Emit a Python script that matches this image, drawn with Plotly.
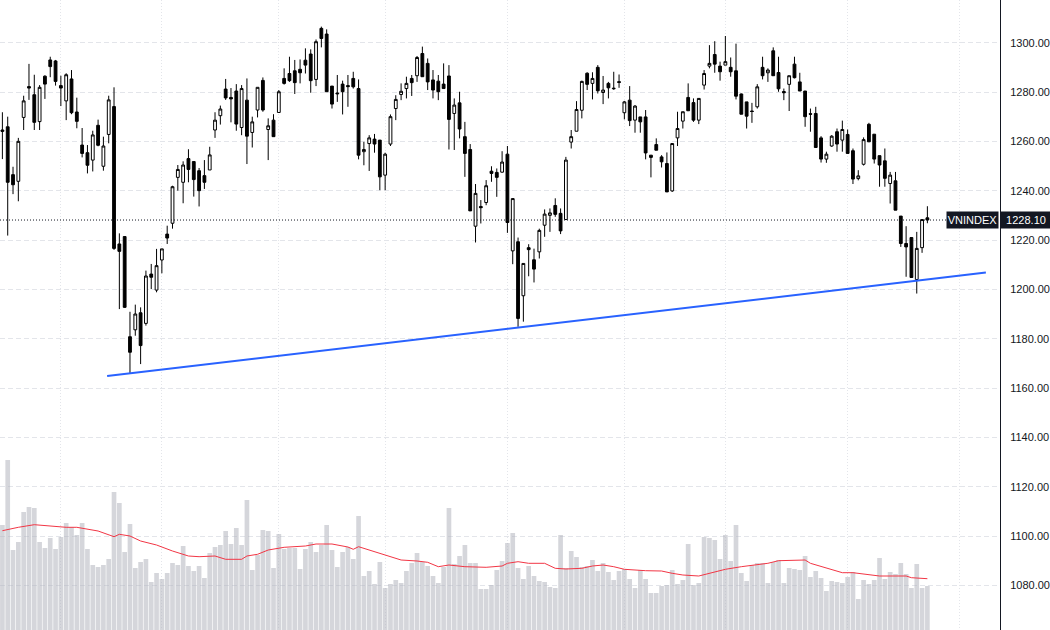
import plotly.graph_objects as go

# ---------------- data ----------------
opens = [1264.0,1265.9,1246.5,1243.8,1269.7,1282.2,1278.9,1268.0,1286.4,1293.0,
         1292.6,1282.6,1276.4,1285.3,1271.9,1258.5,1255.4,1252.4,1266.5,1249.9,
         1262.8,1274.1,1218.4,1221.4,1180.8,1183.6,1190.5,1186.2,1206.2,1199.7,
         1211.9,1222.4,1226.8,1245.4,1243.4,1253.0,1251.8,1248.1,1246.1,1248.4,
         1264.6,1270.4,1281.2,1277.8,1280.4,1265.6,1276.7,1263.6,1272.7,1284.7,
         1264.8,1268.6,1271.7,1285.5,1287.5,1288.6,1289.2,1292.9,1295.4,1285.1,
         1305.8,1303.5,1282.4,1279.6,1283.2,1282.6,1285.5,1281.4,1255.8,1259.1,
         1260.9,1260.5,1246.3,1258.9,1273.3,1279.0,1281.4,1285.5,1286.6,1295.6,
         1291.6,1284.9,1284.4,1283.2,1286.5,1271.3,1275.6,1261.9,1256.7,1225.6,
         1233.6,1235.2,1247.9,1247.4,1247.5,1254.8,1215.6,1219.3,1197.4,1216.9,
         1212.0,1215.2,1226.0,1230.0,1234.0,1230.8,1228.3,1259.7,1264.1,1272.6,
         1287.6,1283.5,1290.0,1279.8,1283.5,1281.3,1284.2,1271.6,1276.7,1268.6,
         1269.9,1269.9,1254.4,1258.7,1253.7,1251.0,1239.9,1261.4,1268.2,1277.8,
         1275.7,1268.6,1282.8,1290.5,1295.2,1290.5,1290.9,1290.0,1288.6,1279.2,
         1276.0,1272.3,1274.0,1290.0,1287.8,1296.7,1287.9,1280.2,1283.1,1291.3,
         1284.1,1280.4,1271.2,1271.3,1261.4,1252.8,1258.1,1263.9,1260.5,1262.8,
         1256.2,1244.9,1250.7,1266.9,1262.9,1254.2,1252.1,1242.9,1244.0,1229.7,
         1218.6,1221.0,1204.0,1216.9,1229.0]
highs = [1271.8,1270.0,1249.7,1261.4,1278.5,1291.4,1287.0,1282.8,1286.8,1294.3,
         1293.0,1286.6,1287.6,1288.9,1277.7,1265.4,1258.5,1264.3,1268.8,1261.9,
         1278.5,1281.9,1222.7,1221.4,1190.9,1193.8,1192.7,1207.6,1210.3,1216.4,
         1216.4,1225.8,1242.0,1250.4,1251.9,1256.8,1251.8,1249.2,1252.4,1257.8,
         1271.8,1274.5,1285.3,1281.6,1283.2,1282.8,1285.5,1270.0,1281.9,1285.9,
         1269.3,1271.0,1280.8,1289.6,1294.3,1293.0,1293.2,1297.7,1297.3,1301.3,
         1306.5,1305.4,1282.4,1286.9,1284.6,1286.9,1288.2,1285.1,1259.8,1262.5,
         1263.0,1260.5,1255.4,1270.9,1278.7,1283.5,1286.2,1286.9,1294.6,1298.4,
         1293.6,1288.9,1286.9,1291.6,1290.9,1277.4,1280.1,1267.9,1258.9,1242.7,
         1236.2,1244.3,1249.9,1249.0,1256.0,1258.1,1236.8,1221.0,1210.5,1218.3,
         1216.5,1224.6,1232.4,1232.8,1236.9,1232.8,1253.7,1264.6,1276.3,1284.6,
         1288.0,1288.0,1290.9,1286.5,1284.1,1288.2,1287.1,1276.4,1282.4,1274.7,
         1269.9,1272.7,1254.4,1261.2,1254.4,1255.5,1259.1,1272.0,1272.0,1283.5,
         1277.4,1277.4,1288.9,1299.0,1300.6,1292.3,1302.7,1294.0,1299.6,1279.4,
         1276.0,1275.6,1283.2,1294.3,1289.6,1298.1,1294.3,1281.4,1286.6,1294.3,
         1287.8,1280.4,1273.3,1274.0,1262.1,1255.8,1262.5,1265.2,1268.4,1264.8,
         1257.1,1248.3,1261.6,1267.5,1262.9,1254.2,1257.1,1247.6,1247.6,1229.7,
         1225.6,1221.0,1223.3,1228.3,1233.7]
lows = [1252.8,1221.8,1238.6,1235.7,1264.6,1276.8,1264.6,1264.6,1277.2,1286.0,
        1282.6,1274.3,1268.6,1271.0,1265.3,1253.5,1247.0,1247.8,1258.0,1248.1,
        1259.2,1216.0,1192.0,1192.5,1165.7,1181.2,1169.7,1185.3,1200.1,1198.8,
        1206.5,1218.4,1224.6,1240.0,1234.9,1243.4,1237.6,1233.6,1240.7,1248.4,
        1261.4,1266.8,1276.8,1267.7,1264.3,1262.5,1250.8,1257.5,1269.7,1272.0,
        1252.4,1261.9,1271.7,1283.0,1284.1,1279.2,1283.5,1287.5,1279.7,1282.4,
        1298.1,1280.1,1273.3,1276.0,1270.9,1274.0,1281.4,1252.7,1250.3,1248.0,
        1255.4,1240.2,1240.2,1258.1,1268.6,1276.7,1277.4,1278.4,1284.1,1286.2,
        1280.8,1277.4,1276.7,1281.4,1256.7,1256.5,1261.2,1245.6,1231.8,1219.0,
        1226.7,1234.1,1243.6,1237.5,1247.3,1222.9,1210.2,1184.8,1186.9,1205.3,
        1202.8,1212.5,1221.3,1223.3,1229.4,1222.4,1228.3,1257.1,1264.1,1269.3,
        1280.8,1277.0,1279.4,1275.1,1277.4,1280.9,1281.7,1268.9,1266.2,1263.5,
        1263.5,1252.7,1245.4,1256.4,1249.4,1239.5,1239.5,1258.1,1265.2,1272.4,
        1267.9,1267.0,1281.0,1289.6,1287.8,1284.6,1290.9,1286.2,1277.0,1271.0,
        1265.2,1267.5,1273.3,1285.1,1284.1,1286.6,1280.1,1276.7,1272.3,1285.5,
        1280.4,1265.9,1263.9,1257.5,1251.4,1251.3,1257.8,1255.8,1255.8,1255.1,
        1242.7,1244.2,1250.2,1259.8,1251.0,1241.6,1241.6,1234.8,1232.1,1217.2,
        1205.1,1204.8,1198.3,1214.8,1226.8]
closes = [1264.6,1243.4,1242.4,1260.0,1276.4,1281.6,1267.7,1281.9,1283.2,1290.3,
          1284.3,1281.6,1287.0,1271.6,1268.1,1255.1,1250.3,1262.6,1258.4,1258.1,
          1276.8,1216.6,1215.4,1192.7,1174.5,1190.0,1177.2,1205.4,1204.9,1209.6,
          1216.4,1220.8,1241.6,1248.6,1250.4,1248.6,1244.5,1240.0,1243.4,1254.5,
          1268.6,1273.1,1277.6,1277.2,1267.0,1281.4,1262.1,1267.9,1281.9,1272.7,
          1266.3,1261.9,1280.1,1283.5,1284.6,1283.8,1287.8,1290.9,1284.6,1300.4,
          1301.7,1280.1,1275.1,1279.3,1280.1,1282.2,1282.1,1254.4,1256.7,1261.4,
          1258.9,1245.6,1254.8,1270.0,1277.0,1280.3,1283.5,1283.8,1294.0,1286.2,
          1284.1,1280.8,1280.1,1281.4,1268.9,1274.7,1265.0,1255.1,1231.8,1238.9,
          1233.1,1242.0,1247.0,1245.4,1251.6,1227.1,1236.8,1188.2,1210.5,1216.1,
          1208.2,1223.9,1230.5,1231.0,1230.4,1223.7,1252.4,1261.9,1272.9,1284.3,
          1283.1,1285.5,1280.5,1280.8,1281.7,1281.5,1283.9,1276.0,1268.4,1274.3,
          1267.9,1255.3,1253.5,1256.4,1251.7,1239.5,1259.1,1265.2,1272.0,1272.4,
          1268.6,1277.4,1287.5,1291.6,1291.3,1288.2,1292.3,1288.2,1278.3,1271.0,
          1270.2,1272.1,1282.1,1286.6,1288.9,1286.6,1281.3,1279.7,1286.6,1285.8,
          1280.4,1270.0,1271.0,1257.5,1252.8,1254.8,1262.1,1258.9,1264.8,1255.1,
          1244.7,1246.0,1260.7,1259.8,1252.8,1250.4,1245.0,1246.3,1232.1,1218.6,
          1217.2,1204.8,1216.6,1228.3,1228.1]
volume = [105,170,80,88,118,123,122,88,82,92,81,93,107,103,95,107,81,65,63,65,
          71,138,127,78,106,62,68,71,48,57,51,57,67,65,84,64,59,64,52,77,
          83,85,99,86,102,85,130,60,75,100,99,62,96,81,82,82,61,81,88,78,
          85,105,80,63,78,83,71,114,54,59,46,68,42,46,50,47,59,67,77,68,
          64,54,47,63,122,66,74,85,67,67,41,41,45,60,69,87,97,62,51,64,
          54,49,48,43,42,95,62,79,73,63,64,70,59,67,58,50,59,61,51,42,
          60,51,37,37,44,45,60,46,50,86,45,47,93,92,90,71,95,69,105,57,
          49,65,67,67,47,68,70,47,62,61,60,74,53,59,52,39,49,48,47,53,
          58,31,50,46,50,72,51,58,56,67,56,42,66,42,44]
ma_idx = [0,3,6,9,12,14,16,18,21,22,24,26,29,32,35,37,40,42,45,46,
          48,50,53,57,59,62,65,66,67,68,70,73,75,78,80,82,84,87,91,94,
          95,97,99,102,104,106,109,111,113,115,117,121,124,126,128,131,134,136,139,142,
          144,146,151,152,155,158,160,163,165,170,171,174]
ma_val = [99.3,102.7,105.3,104,102.7,102.7,100.7,99,93.3,95.7,94,89,85,79,74,73.3,74,70.7,70.7,74,
          75.7,80,82.7,84,86,86,83,80.7,83.3,81.7,78,73.3,70,69,67.7,63.3,65,63.3,62.7,64,
          66.7,68.3,66.7,66.7,61.7,61,61.7,64,65,63.3,60.7,59.3,59,56.7,55,54,57.7,60.7,63.3,65,
          66.7,69.3,70,66.7,61.7,57.3,57.3,55,54,54,52.3,51.3]
price_ticks = [1080,1100,1120,1140,1160,1180,1200,1220,1240,1260,1280,1300]
month_ticks = [11,30,52,72,95,117,136,159,180]
trend_x = [19.7, 185.0]
trend_y = [1164.9, 1206.8]
last_price = 1228.10
symbol = "VNINDEX"

idx = list(range(len(closes)))

fig = go.Figure()
fig.add_trace(go.Bar(x=idx, y=volume, yaxis="y2",
                     marker=dict(color="rgba(178,181,190,0.55)", line=dict(width=0)),
                     hoverinfo="skip"))
fig.add_trace(go.Scatter(x=ma_idx, y=ma_val, yaxis="y2", mode="lines",
                         line=dict(color="#f23645", width=1), hoverinfo="skip"))
fig.add_trace(go.Candlestick(
    x=idx, open=opens, high=highs, low=lows, close=closes,
    increasing=dict(line=dict(color="#000000", width=1), fillcolor="#ffffff"),
    decreasing=dict(line=dict(color="#000000", width=1), fillcolor="#000000"),
    whiskerwidth=0))

fig.add_shape(type="line", xref="x", yref="y",
              x0=trend_x[0], y0=trend_y[0], x1=trend_x[1], y1=trend_y[1],
              line=dict(color="#2962ff", width=2))
fig.add_shape(type="line", xref="paper", yref="y", x0=0, x1=0.947,
              y0=last_price, y1=last_price,
              line=dict(color="#131722", width=1, dash="1px,2px"))

fig.add_annotation(xref="paper", yref="y", x=1.0, y=last_price, xanchor="left",
                   yanchor="middle", text=f"{last_price:.2f}", showarrow=False,
                   bgcolor="#131722", width=50, height=16, borderpad=0,
                   font=dict(color="#ffffff", size=11, family="Liberation Sans"))
fig.add_annotation(xref="paper", yref="y", x=0.999, y=last_price, xanchor="right",
                   yanchor="middle", text=symbol, showarrow=False,
                   bgcolor="#131722", width=51, height=16, borderpad=0,
                   font=dict(color="#ffffff", size=11, family="Liberation Sans"))

fig.update_layout(
    width=1050, height=630, margin=dict(l=0, r=50, t=0, b=0),
    paper_bgcolor="#ffffff", plot_bgcolor="#ffffff", showlegend=False,
    bargap=0.12, boxgap=0.25, hovermode=False,
    xaxis=dict(range=[-0.45, 187.66], tickvals=month_ticks, showticklabels=False,
               showgrid=True, gridcolor="#e3e5ea", griddash="1px,2px",
               zeroline=False, showline=False, ticks="",
               rangeslider=dict(visible=False)),
    yaxis=dict(side="right", range=[1061.9, 1317.3], tickvals=price_ticks,
               ticktext=[f"{v:.2f}" for v in price_ticks],
               showgrid=True, gridcolor="#e3e5ea", griddash="5px,3px",
               zeroline=False, showline=True, linecolor="#131722", linewidth=1,
               ticks="", ticklabelstandoff=7,
               tickfont=dict(family="Liberation Sans", size=11, color="#131722")),
    yaxis2=dict(overlaying="y", range=[0, 630], visible=False, showgrid=False),
)

fig.write_html("out.html")
